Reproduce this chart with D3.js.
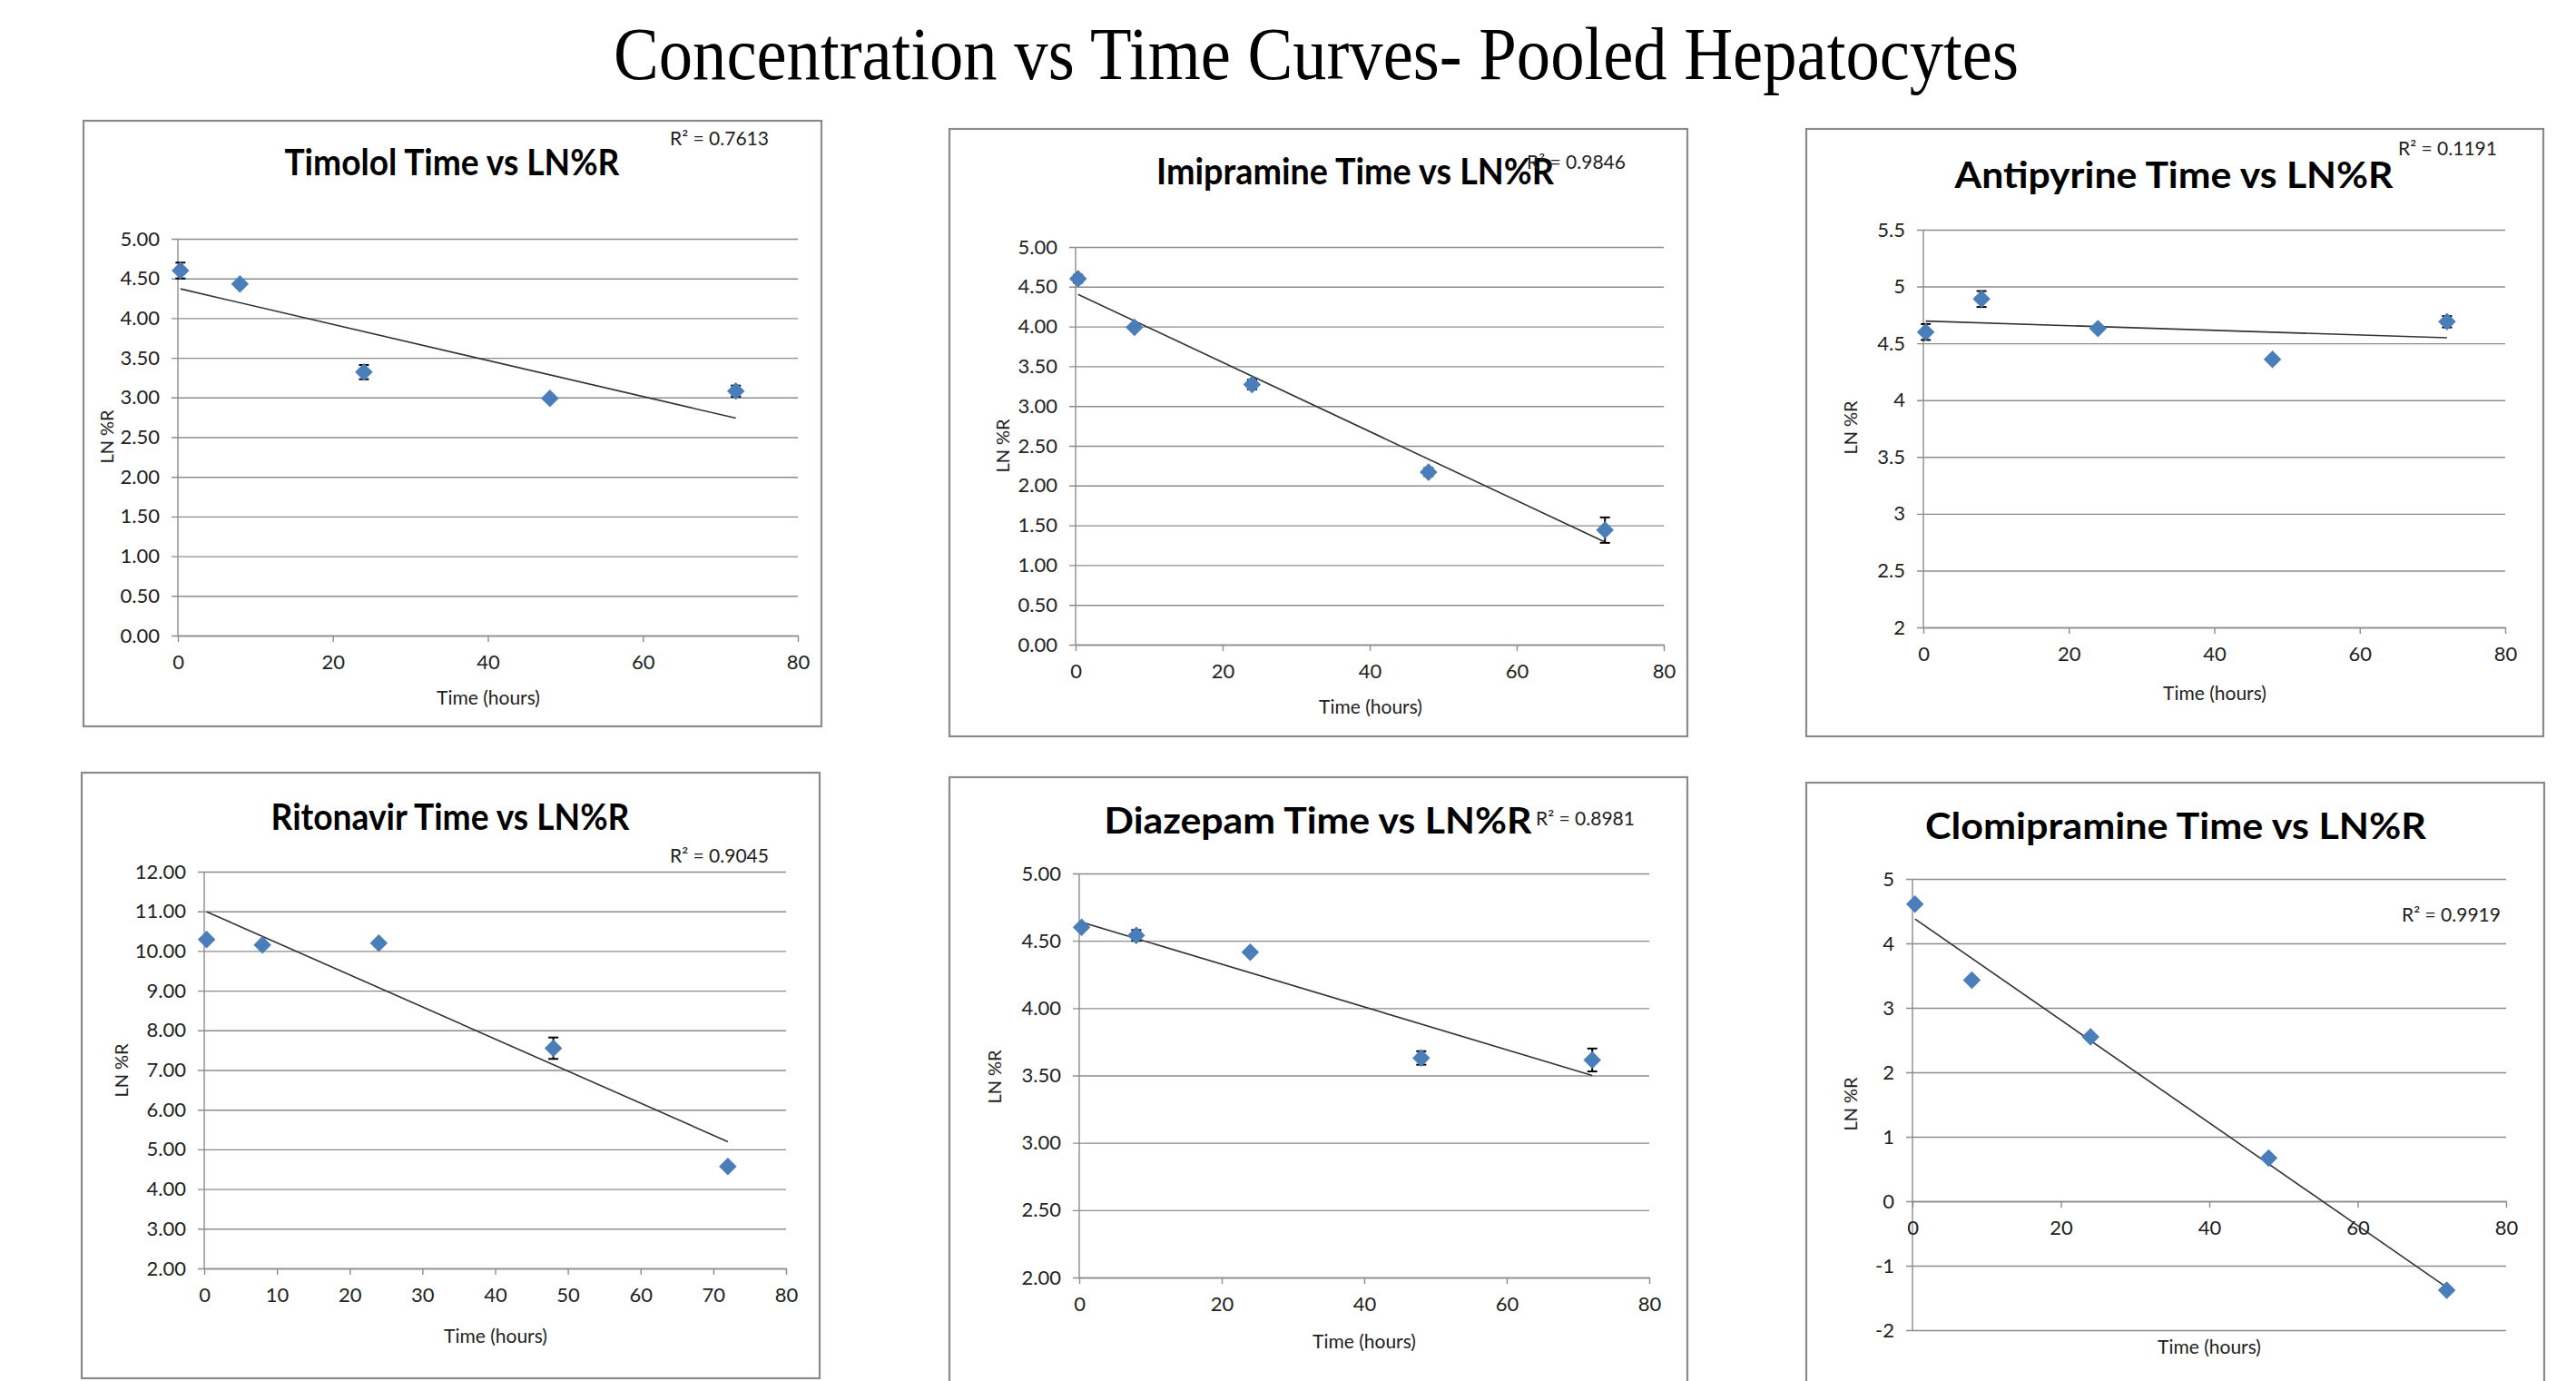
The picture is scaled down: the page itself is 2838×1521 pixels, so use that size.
<!DOCTYPE html>
<html>
<head>
<meta charset="utf-8">
<script src="https://cdn.jsdelivr.net/npm/d3@7"></script>
<style>
    body { margin: 0; background: #fff; }
    #chart-area { width: 2838px; height: 1521px; overflow: hidden; }
</style>
</head>
<body>
<div id="chart-area"></div>
<script>
// ---- data ----
const pageTitle = "Concentration vs Time Curves- Pooled Hepatocytes";
const drugNames = ["Timolol", "Imipramine", "Antipyrine", "Ritonavir", "Diazepam", "Clomipramine"];
const timePoints = [0.33, 8, 24, 48, 72];

const timololLN = [4.60, 4.43, 3.32, 2.99, 3.08];
const timololErr = [0.10, 0.02, 0.09, 0.03, 0.07];
const imipramineLN = [4.60, 3.99, 3.27, 2.17, 1.44];
const imipramineErr = [0.05, 0.03, 0.06, 0.05, 0.16];
const antipyrineLN = [4.60, 4.89, 4.63, 4.36, 4.69];
const antipyrineErr = [0.07, 0.07, 0.02, 0.02, 0.05];
const ritonavirLN = [10.29, 10.15, 10.20, 7.55, 4.57];
const ritonavirErr = [0.05, 0.05, 0.05, 0.27, 0.05];
const diazepamLN = [4.60, 4.54, 4.415, 3.63, 3.615];
const diazepamErr = [0.02, 0.04, 0.01, 0.05, 0.085];
const clomipramineLN = [4.61, 3.43, 2.55, 0.67, -1.38];
const clomipramineErr = [0.04, 0.04, 0.04, 0.04, 0.04];

const rSquaredLabels = ["R² = 0.7613", "R² = 0.9846", "R² = 0.1191", "R² = 0.9045", "R² = 0.8981", "R² = 0.9919"];
const yDomains = [[0, 5], [0, 5], [2, 5.5], [2, 12], [2, 5], [-2, 5]];
const yTickSteps = [0.5, 0.5, 0.5, 1, 0.5, 1];
const yTickDecimals = [2, 2, 0, 2, 2, 0];
const xDomain = [0, 80];
const xTickSteps = [20, 20, 20, 10, 20, 20];

const seriesValues = [timololLN, imipramineLN, antipyrineLN, ritonavirLN, diazepamLN, clomipramineLN];
const seriesErrors = [timololErr, imipramineErr, antipyrineErr, ritonavirErr, diazepamErr, clomipramineErr];

// ---- page layout (pixels) ----
const panelLayout = [
    {box: [92, 133, 905, 800],    px: [196, 879],   py: [263, 700],  title: [498, 193, 369],  r2: [738, 160],  ylab: [118, 481],  xlab: [538, 769]},
    {box: [1046, 142, 1859, 811], px: [1185, 1833], py: [272, 710],  title: [1493, 203, 438], r2: [1682, 186], ylab: [1105, 491], xlab: [1510, 779]},
    {box: [1990, 142, 2802, 811], px: [2119, 2760], py: [253, 691],  title: [2395, 207, 483], r2: [2642, 171], ylab: [2039, 471], xlab: [2440, 764]},
    {box: [90, 851, 903, 1518],   px: [225, 866],   py: [960, 1397], title: [496, 914, 395],  r2: [738, 950],  ylab: [134, 1179], xlab: [546, 1472]},
    {box: [1046, 856, 1859, 1540], px: [1189, 1817], py: [962, 1407], title: [1452, 918, 471], r2: [1692, 909], ylab: [1096, 1186], xlab: [1503, 1478]},
    {box: [1990, 862, 2803, 1540], px: [2107, 2761], py: [968, 1465], title: [2397, 924, 552], r2: [2646, 1015], ylab: [2039, 1216], xlab: [2434, 1484]}
];

const gridColor = "#8c8c8c";
const markerColor = "#4a7ebb";
const labelFont = "Lato, 'Open Sans', sans-serif";

class TimeCurvePanel {
    constructor(svg, index) {
        this.svg = svg;
        this.index = index;
        this.layout = panelLayout[index];
        this.initVis();
    }

    initVis() {
        let vis = this;
        let L = vis.layout;

        vis.g = vis.svg.append("g").attr("class", "panel");

        // chart frame
        vis.g.append("rect")
            .attr("x", L.box[0]).attr("y", L.box[1])
            .attr("width", L.box[2] - L.box[0]).attr("height", L.box[3] - L.box[1])
            .attr("fill", "#fff")
            .attr("stroke", "#8a8a8a")
            .attr("stroke-width", 2.2);

        vis.x = d3.scaleLinear().domain(xDomain).range(L.px);
        vis.y = d3.scaleLinear().domain(yDomains[vis.index]).range([L.py[1], L.py[0]]);

        vis.wrangleData();
    }

    wrangleData() {
        let vis = this;
        let vals = seriesValues[vis.index];
        let errs = seriesErrors[vis.index];

        vis.displayData = timePoints.map((t, i) => ({t: t, v: vals[i], e: errs[i]}));

        // least squares trendline like excel's linear trendline
        let mx = d3.mean(timePoints), my = d3.mean(vals);
        let sxy = d3.sum(timePoints, (t, i) => (t - mx) * (vals[i] - my));
        let sxx = d3.sum(timePoints, t => (t - mx) * (t - mx));
        let slope = sxy / sxx;
        let intercept = my - slope * mx;
        vis.trend = d3.extent(timePoints).map(t => ({t: t, v: intercept + slope * t}));

        vis.updateVis();
    }

    updateVis() {
        let vis = this;
        let L = vis.layout;
        let i = vis.index;
        let yDom = yDomains[i];
        let step = yTickSteps[i];
        let yTicks = d3.range(yDom[0], yDom[1] + step / 2, step);
        let xTicks = d3.range(xDomain[0], xDomain[1] + 1, xTickSteps[i]);
        let dec = yTickDecimals[i];
        let fmt = d => dec ? d.toFixed(dec) : String(+d.toFixed(2));

        // horizontal gridlines + y labels
        let grid = vis.g.append("g")
            .attr("transform", `translate(${L.px[0] - 7},0)`)
            .call(d3.axisLeft(vis.y)
                .tickValues(yTicks)
                .tickSize(-(L.px[1] - L.px[0] + 7))
                .tickPadding(13)
                .tickFormat(fmt));
        grid.select(".domain").remove();
        grid.selectAll("line").attr("stroke", gridColor).attr("stroke-width", 1.4);
        grid.selectAll("text")
            .attr("font-family", labelFont)
            .attr("font-size", 22)
            .attr("fill", "#222");

        // vertical axis line
        vis.g.append("line")
            .attr("x1", L.px[0]).attr("x2", L.px[0])
            .attr("y1", L.py[0]).attr("y2", L.py[1])
            .attr("stroke", gridColor).attr("stroke-width", 1.4);

        // horizontal axis, crossing at zero when the scale goes negative
        let axisY = yDom[0] < 0 ? vis.y(0) : L.py[1];
        let xAxis = vis.g.append("g")
            .attr("transform", `translate(0,${axisY})`)
            .call(d3.axisBottom(vis.x)
                .tickValues(xTicks)
                .tickSize(7)
                .tickSizeOuter(0)
                .tickPadding(14)
                .tickFormat(d3.format("d")));
        xAxis.select(".domain").attr("stroke", gridColor).attr("stroke-width", 1.4);
        xAxis.selectAll("line").attr("stroke", gridColor).attr("stroke-width", 1.4);
        xAxis.selectAll("text")
            .attr("font-family", labelFont)
            .attr("font-size", 22)
            .attr("fill", "#222");

        // trendline
        vis.g.append("path")
            .datum(vis.trend)
            .attr("fill", "none")
            .attr("stroke", "#333")
            .attr("stroke-width", 1.6)
            .attr("d", d3.line().x(d => vis.x(d.t)).y(d => vis.y(d.v)));

        // error bars
        let bars = vis.g.append("g").selectAll("g")
            .data(vis.displayData)
            .join("g")
            .attr("stroke", "#000")
            .attr("stroke-width", 2);
        bars.append("line")
            .attr("x1", d => vis.x(d.t)).attr("x2", d => vis.x(d.t))
            .attr("y1", d => vis.y(d.v - d.e)).attr("y2", d => vis.y(d.v + d.e));
        bars.append("line")
            .attr("x1", d => vis.x(d.t) - 5.5).attr("x2", d => vis.x(d.t) + 5.5)
            .attr("y1", d => vis.y(d.v + d.e)).attr("y2", d => vis.y(d.v + d.e));
        bars.append("line")
            .attr("x1", d => vis.x(d.t) - 5.5).attr("x2", d => vis.x(d.t) + 5.5)
            .attr("y1", d => vis.y(d.v - d.e)).attr("y2", d => vis.y(d.v - d.e));

        // diamond markers
        vis.g.append("g").selectAll("path")
            .data(vis.displayData)
            .join("path")
            .attr("d", d3.symbol(d3.symbolSquare, 190))
            .attr("transform", d => `translate(${vis.x(d.t)},${vis.y(d.v)}) rotate(45)`)
            .attr("fill", markerColor);

        // texts
        vis.g.append("text")
            .text(drugNames[i] + " Time vs LN%R")
            .attr("x", L.title[0]).attr("y", L.title[1])
            .attr("text-anchor", "middle")
            .attr("textLength", L.title[2])
            .attr("lengthAdjust", "spacingAndGlyphs")
            .attr("font-family", labelFont)
            .attr("font-weight", "bold")
            .attr("font-size", 41)
            .attr("fill", "#000");

        vis.g.append("text")
            .text(rSquaredLabels[i])
            .attr("x", L.r2[0]).attr("y", L.r2[1])
            .attr("font-family", labelFont)
            .attr("font-size", 21)
            .attr("fill", "#222");

        vis.g.append("text")
            .text("LN %R")
            .attr("transform", `translate(${L.ylab[0]},${L.ylab[1]}) rotate(-90)`)
            .attr("text-anchor", "middle")
            .attr("dy", "0.35em")
            .attr("font-family", labelFont)
            .attr("font-size", 20)
            .attr("fill", "#222");

        vis.g.append("text")
            .text("Time (hours)")
            .attr("x", L.xlab[0]).attr("y", L.xlab[1])
            .attr("text-anchor", "middle")
            .attr("dy", "0.35em")
            .attr("font-family", labelFont)
            .attr("font-size", 21)
            .attr("fill", "#222");
    }
}

let svg = d3.select("#chart-area").append("svg")
    .attr("width", 2838)
    .attr("height", 1521);

svg.append("rect").attr("width", 2838).attr("height", 1521).attr("fill", "#fff");

svg.append("text")
    .text(pageTitle)
    .attr("x", 676).attr("y", 87)
    .attr("textLength", 1548)
    .attr("lengthAdjust", "spacingAndGlyphs")
    .attr("font-family", "'Liberation Serif', 'Times New Roman', serif")
    .attr("font-size", 82)
    .attr("fill", "#000");

drugNames.forEach((name, i) => new TimeCurvePanel(svg, i));
</script>
</body>
</html>
